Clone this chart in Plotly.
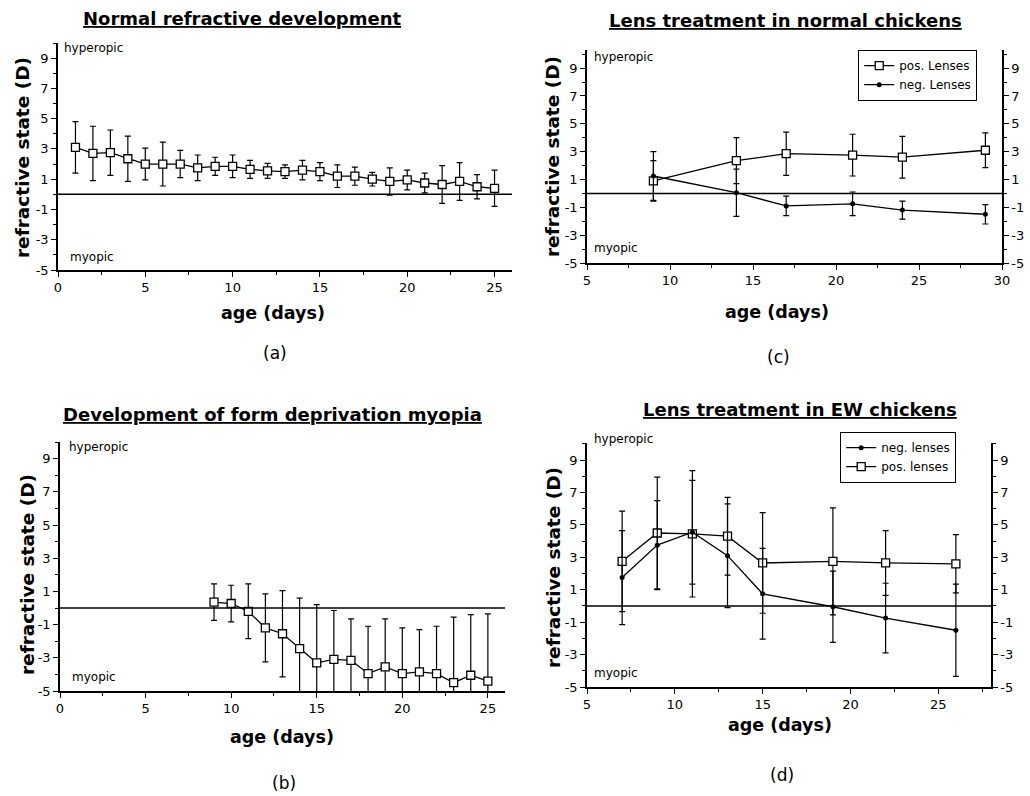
import plotly.graph_objects as go

W, H = 1030, 796

# ---------------- data ----------------
# (a) Normal refractive development
a_age = list(range(1, 26))
a_val = [3.1, 2.7, 2.75, 2.35, 2.0, 2.0, 2.0, 1.75, 1.85, 1.85, 1.65, 1.55, 1.5,
         1.6, 1.5, 1.2, 1.2, 1.0, 0.85, 0.95, 0.75, 0.65, 0.85, 0.5, 0.4]
a_err = [1.7, 1.8, 1.5, 1.5, 1.05, 1.45, 0.9, 0.85, 0.6, 0.75, 0.6, 0.5, 0.45,
         0.65, 0.6, 0.75, 0.6, 0.45, 0.9, 0.65, 0.65, 1.25, 1.25, 0.8, 1.2]

# (b) Development of form deprivation myopia
b_age = list(range(9, 26))
b_val = [0.35, 0.27, -0.2, -1.2, -1.55, -2.45, -3.3, -3.1, -3.15, -3.95, -3.55,
         -3.95, -3.85, -3.95, -4.5, -4.05, -4.4]
b_err = [1.1, 1.1, 1.65, 2.05, 2.6, 3.05, 3.5, 2.95, 2.5, 2.85, 2.9, 2.75, 2.55,
         2.85, 3.95, 3.65, 4.05]

# (c) Lens treatment in normal chickens
c_age = [9, 14, 17, 21, 24, 29]
c_pos = [0.9, 2.35, 2.85, 2.75, 2.6, 3.1]
c_pos_err = [1.45, 1.65, 1.55, 1.5, 1.5, 1.25]
c_neg = [1.25, 0.05, -0.9, -0.75, -1.2, -1.5]
c_neg_err = [1.75, 1.7, 0.7, 0.85, 0.65, 0.7]

# (d) Lens treatment in EW chickens
d_age = [7, 9, 11, 13, 15, 19, 22, 26]
d_neg = [1.75, 3.75, 4.55, 3.1, 0.75, -0.05, -0.75, -1.5]
d_neg_err = [2.9, 2.75, 3.2, 3.2, 2.8, 2.2, 2.15, 2.85]
d_pos = [2.75, 4.5, 4.45, 4.3, 2.65, 2.75, 2.65, 2.6]
d_pos_err = [3.1, 3.45, 3.9, 2.4, 3.1, 3.3, 2.0, 1.8]

y_ticks = [-5, -3, -1, 1, 3, 5, 7, 9]
y_tick_text = [str(v) for v in y_ticks]

titles = ["Normal refractive development", "Development of form deprivation myopia",
          "Lens treatment in normal chickens", "Lens treatment in EW chickens"]
panel_labels = ["(a)", "(b)", "(c)", "(d)"]
c_names = ["pos. Lenses", "neg. Lenses"]
d_names = ["neg. lenses", "pos. lenses"]


def px(x):
    return x / W


def py(y):
    return 1 - y / H


FONT = "DejaVu Sans"
fig = go.Figure()


def square_trace(x, y, e, xa, ya, name=None, legend=None, show=False):
    return go.Scatter(
        x=x, y=y, xaxis=xa, yaxis=ya, mode="lines+markers", name=name,
        showlegend=show, legend=legend,
        line=dict(color="black", width=1.3),
        marker=dict(symbol="square", size=8, color="white",
                    line=dict(color="black", width=1.3)),
        error_y=dict(type="data", array=e, visible=True, color="black",
                     thickness=1.2, width=3),
    )


def dot_trace(x, y, e, xa, ya, name=None, legend=None, show=False):
    return go.Scatter(
        x=x, y=y, xaxis=xa, yaxis=ya, mode="lines+markers", name=name,
        showlegend=show, legend=legend,
        line=dict(color="black", width=1.3),
        marker=dict(symbol="circle", size=5, color="black"),
        error_y=dict(type="data", array=e, visible=True, color="black",
                     thickness=1.2, width=3),
    )


fig.add_trace(square_trace(a_age, a_val, a_err, "x", "y"))
fig.add_trace(square_trace(b_age, b_val, b_err, "x2", "y2"))
fig.add_trace(square_trace(c_age, c_pos, c_pos_err, "x3", "y3", c_names[0], "legend", True))
fig.add_trace(dot_trace(c_age, c_neg, c_neg_err, "x3", "y5", c_names[1], "legend", True))
fig.add_trace(dot_trace(d_age, d_neg, d_neg_err, "x4", "y6", d_names[0], "legend2", True))
fig.add_trace(square_trace(d_age, d_pos, d_pos_err, "x4", "y4", d_names[1], "legend2", True))

axis_common = dict(showline=True, linecolor="black", linewidth=1.5, showgrid=False,
                   zeroline=False, ticks="outside", ticklen=5, tickwidth=1.2,
                   tickcolor="black", tickfont=dict(family=FONT, size=13, color="black"))


def xax(domain, rng, anchor):
    d = dict(axis_common)
    d.update(domain=domain, range=rng, anchor=anchor, tickmode="linear", tick0=0, dtick=5,
             minor=dict(dtick=2.5, tick0=0, ticks="outside", ticklen=3, tickcolor="black"))
    return d


def yax(domain, rng, anchor, side="left", overlaying=None):
    d = dict(axis_common)
    d.update(domain=domain, range=rng, anchor=anchor, tickmode="array", tickvals=y_ticks,
             ticktext=y_tick_text, side=side,
             minor=dict(dtick=1, tick0=0, ticks="outside", ticklen=3, tickcolor="black"))
    if overlaying:
        d["overlaying"] = overlaying
    return d


fig.update_layout(
    width=W, height=H, margin=dict(l=0, r=0, t=0, b=0, autoexpand=False),
    paper_bgcolor="white", plot_bgcolor="white",
    xaxis=xax([px(58), px(512)], [0, 26], "y"),
    yaxis=yax([py(270), py(43)], [-5, 10], "x"),
    xaxis2=xax([px(60), px(505)], [0, 26], "y2"),
    yaxis2=yax([py(691), py(442)], [-5, 10], "x2"),
    xaxis3=xax([px(587), px(1002)], [5, 30], "y3"),
    yaxis3=yax([py(263), py(50)], [-5, 10.3], "x3"),
    yaxis5=yax([py(263), py(50)], [-5, 10.3], "x3", side="right", overlaying="y3"),
    xaxis4=xax([px(587), px(991)], [5, 28], "y4"),
    yaxis4=yax([py(687), py(443)], [-5, 10.05], "x4"),
    yaxis6=yax([py(687), py(443)], [-5, 10.05], "x4", side="right", overlaying="y4"),
    legend=dict(x=px(858), y=py(50), xanchor="left", yanchor="top",
                bordercolor="black", borderwidth=1.2, bgcolor="white",
                font=dict(family=FONT, size=12, color="black"),
                itemwidth=30, tracegroupgap=0),
    legend2=dict(x=px(840), y=py(432), xanchor="left", yanchor="top",
                 bordercolor="black", borderwidth=1.2, bgcolor="white",
                 font=dict(family=FONT, size=12, color="black"),
                 itemwidth=30, tracegroupgap=0),
)

# zero reference lines
for xa, ya in [("x", "y"), ("x2", "y2"), ("x3", "y3"), ("x4", "y4")]:
    fig.add_shape(type="line", xref=f"{xa} domain", yref=ya, x0=0, x1=1, y0=0, y1=0,
                  line=dict(color="black", width=1.5))

ann = []
# titles
for t, (cx, cy) in zip(titles, [(242, 18), (272, 415), (785, 20), (800, 410)]):
    ann.append(dict(text=f"<b><u>{t}</u></b>", x=px(cx), y=py(cy), xref="paper", yref="paper",
                    showarrow=False, xanchor="center", yanchor="middle",
                    font=dict(family=FONT, size=18, color="black")))
# panel labels
for t, (cx, cy) in zip(panel_labels, [(275, 353), (284, 783), (778, 357), (782, 775)]):
    ann.append(dict(text=t, x=px(cx), y=py(cy), xref="paper", yref="paper",
                    showarrow=False, xanchor="center", yanchor="middle",
                    font=dict(family=FONT, size=17, color="black")))
# x-axis titles
for (cx, cy) in [(273, 313), (282, 737), (777, 312), (780, 725)]:
    ann.append(dict(text="<b>age (days)</b>", x=px(cx), y=py(cy), xref="paper", yref="paper",
                    showarrow=False, xanchor="center", yanchor="middle",
                    font=dict(family=FONT, size=17.5, color="black")))
# y-axis titles
for (cx, cy) in [(22, 158), (27, 575), (552, 157), (553, 568)]:
    ann.append(dict(text="<b>refractive state (D)</b>", x=px(cx), y=py(cy), xref="paper",
                    yref="paper", showarrow=False, textangle=-90, xanchor="center",
                    yanchor="middle", font=dict(family=FONT, size=18.5, color="black")))
# hyperopic / myopic
for (hx, hy), (mx, my) in [((62, 48), (68, 257)), ((67, 447), (70, 677)),
                           ((592, 57), (592, 248)), ((592, 439), (592, 673))]:
    ann.append(dict(text="hyperopic", x=px(hx), y=py(hy), xref="paper", yref="paper",
                    showarrow=False, xanchor="left", yanchor="middle",
                    font=dict(family=FONT, size=12, color="black")))
    ann.append(dict(text="myopic", x=px(mx), y=py(my), xref="paper", yref="paper",
                    showarrow=False, xanchor="left", yanchor="middle",
                    font=dict(family=FONT, size=12, color="black")))
fig.update_layout(annotations=ann)

fig.write_html(
    "out.html",
    config={"displayModeBar": False},
    post_script="document.body.style.margin='0';document.body.style.overflow='hidden';",
)
